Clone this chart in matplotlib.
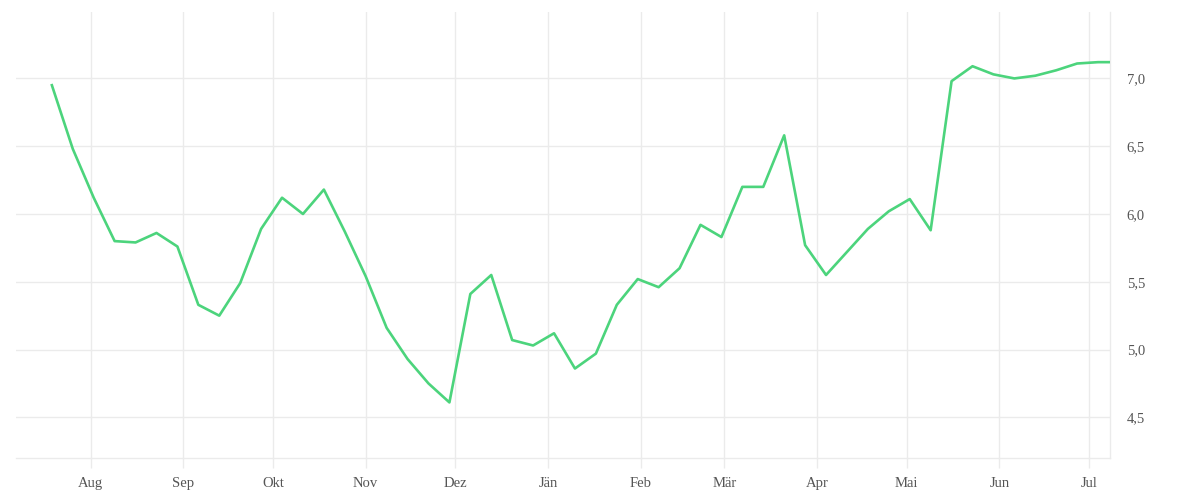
import matplotlib
matplotlib.use("Agg")
import matplotlib.pyplot as plt
import pandas as pd

# Data (weekly values)
start_date = "2022-07-19"
values = [6.95, 6.48, 6.12, 5.80, 5.79, 5.86, 5.76, 5.33, 5.25, 5.49,
          5.89, 6.12, 6.00, 6.18, 5.87, 5.54, 5.16, 4.93, 4.75, 4.61,
          5.41, 5.55, 5.07, 5.03, 5.12, 4.86, 4.97, 5.33, 5.52, 5.46,
          5.60, 5.92, 5.83, 6.20, 6.20, 6.58, 5.77, 5.55, 5.72, 5.89,
          6.02, 6.11, 5.88, 6.98, 7.09, 7.03, 7.00, 7.02, 7.06, 7.11,
          7.12, 7.12]
month_labels = ["Aug", "Sep", "Okt", "Nov", "Dez", "Jän", "Feb", "Mär",
                "Apr", "Mai", "Jun", "Jul"]
month_starts = ["2022-08-01", "2022-09-01", "2022-10-01", "2022-11-01",
                "2022-12-01", "2023-01-01", "2023-02-01", "2023-03-01",
                "2023-04-01", "2023-05-01", "2023-06-01", "2023-07-01"]
y_ticks = [4.5, 5.0, 5.5, 6.0, 6.5, 7.0]

dates = pd.date_range(start_date, periods=len(values), freq="7D")

plt.rcParams['font.family'] = ['Liberation Serif', 'DejaVu Serif']

fig = plt.figure(figsize=(12, 5), dpi=100)
ax = fig.add_axes([16/1200, 42/500, (1110-16)/1200, (458-12)/500])

grid_c = "#ebebeb"
ax.plot(dates, values, color="#4cd47c", lw=1.9, zorder=3)

ax.set_xlim(pd.Timestamp("2022-07-07"), pd.Timestamp("2023-07-08"))
ax.set_ylim(4.2, 7.49)

ax.set_xticks(pd.to_datetime(month_starts))
ax.set_xticklabels(month_labels)
ax.set_yticks(y_ticks)
ax.set_yticklabels([f"{v:.1f}".replace(".", ",") for v in y_ticks])

ax.yaxis.tick_right()
ax.tick_params(axis="x", length=7.5, width=1, color=grid_c, pad=6,
               labelsize=10.5, labelcolor="#555555")
ax.tick_params(axis="y", length=0, pad=12, labelsize=10.5, labelcolor="#555555")
for lab in ax.get_yticklabels():
    lab.set_horizontalalignment("left")

ax.grid(True, color=grid_c, lw=1)
for s in ["top", "left"]:
    ax.spines[s].set_visible(False)
for s in ["right", "bottom"]:
    ax.spines[s].set_color(grid_c)
    ax.spines[s].set_linewidth(1)

fig.savefig("out.png", dpi=100, facecolor="white")
